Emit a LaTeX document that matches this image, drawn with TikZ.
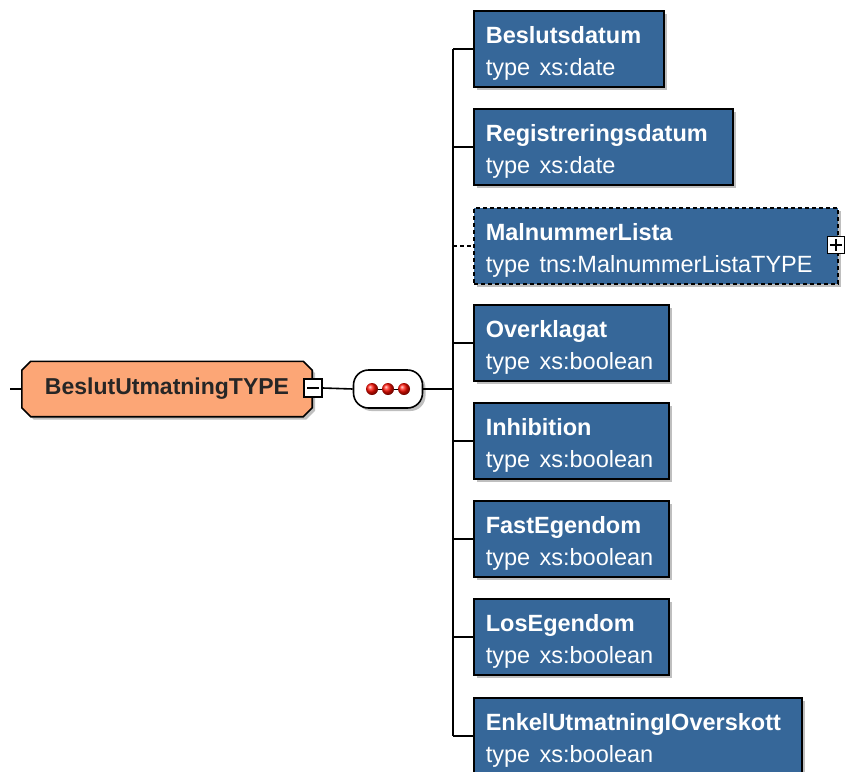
\documentclass[tikz,border=0pt]{standalone}
\usepackage{fontspec}
\setmainfont{Liberation Sans}
\usetikzlibrary{shadows,backgrounds}

\definecolor{elblue}{RGB}{54,103,153}
\definecolor{rootorange}{RGB}{252,166,118}

\newcommand{\elemtext}[2]{\rule{0pt}{27pt}\textbf{#1}\\type\hspace{0.4em}#2\rule[-5pt]{0pt}{5pt}}

\tikzset{
  shadowed/.style={drop shadow={shadow xshift=3pt,shadow yshift=-3pt,fill=black,opacity=0.25}},
  elbox/.style={draw=black,line width=1.6pt,fill=elblue,text=white,anchor=north west,
    minimum height=76pt,inner xsep=12pt,inner ysep=0pt,align=left,
    font=\fontsize{23.5}{32}\selectfont,shadowed},
  rootbox/.style={draw=black,line width=1.6pt,fill=rootorange,shadowed},
  conn/.style={line width=1.6pt},
  togglebox/.style={draw=black,line width=1.5pt,fill=white,minimum size=18pt,inner sep=0pt},
  seqdot/.style={circle,shading=ball,ball color=red!90!orange,minimum size=12pt,inner sep=0pt}
}

\begin{document}
\begin{tikzpicture}[x=1pt,y=-1pt]
\useasboundingbox (0,0) rectangle (845,771);

\coordinate (start) at (10,389);
\coordinate (spine) at (453,389);

\node[minimum width=290pt,minimum height=55pt,inner sep=0pt,text=black!85,
  font=\fontsize{23}{28}\selectfont\bfseries] (root) at (167,389) {BeslutUtmatningTYPE};
\begin{scope}[on background layer]
\draw[rootbox] ([xshift=9pt]root.north west) -- ([xshift=-9pt]root.north east)
  -- ([yshift=-9pt]root.north east) -- ([yshift=9pt]root.south east)
  -- ([xshift=-9pt]root.south east) -- ([xshift=9pt]root.south west)
  -- ([yshift=9pt]root.south west) -- ([yshift=-9pt]root.north west) -- cycle;
\end{scope}
\node[togglebox] (minus) at (313,388) {};
\draw[line width=1.5pt] ([xshift=4pt]minus.west) -- ([xshift=-4pt]minus.east);

\node[draw=black,line width=1.6pt,fill=white,rounded corners=15pt,minimum width=69pt,
  minimum height=38pt,shadowed] (seq) at (388,389) {};
\node[seqdot] (dot1) at (372,389) {};
\node[seqdot] (dot2) at (388,389) {};
\node[seqdot] (dot3) at (404,389) {};
\draw[line width=0.8pt] (dot1) -- (dot2) -- (dot3);

\node[elbox,text width=166pt] (beslutsdatum) at (473,10) {\elemtext{Beslutsdatum}{xs:date}};
\node[elbox,text width=235pt] (registreringsdatum) at (473,108) {\elemtext{Registreringsdatum}{xs:date}};
\node[elbox,text width=340pt,dash pattern=on 4pt off 3pt] (malnummer) at (473,207) {\elemtext{MalnummerLista}{tns:MalnummerListaTYPE}};
\node[elbox,text width=171pt] (overklagat) at (473,304) {\elemtext{Overklagat}{xs:boolean}};
\node[elbox,text width=171pt] (inhibition) at (473,402) {\elemtext{Inhibition}{xs:boolean}};
\node[elbox,text width=171pt] (fastegendom) at (473,500) {\elemtext{FastEgendom}{xs:boolean}};
\node[elbox,text width=171pt] (losegendom) at (473,598) {\elemtext{LosEgendom}{xs:boolean}};
\node[elbox,text width=304pt] (enkel) at (473,697) {\elemtext{EnkelUtmatningIOverskott}{xs:boolean}};

\node[togglebox,minimum size=17pt] (plus) at (836,245) {};
\draw[line width=1.5pt] ([xshift=3pt]plus.west) -- ([xshift=-3pt]plus.east);
\draw[line width=1.5pt] ([yshift=-3pt]plus.north) -- ([yshift=3pt]plus.south);

\draw[conn] (start) -- (root.west);
\draw[conn] (minus.east) -- (seq.west);
\draw[conn] (seq.east) -- (spine);
\draw[conn] (beslutsdatum.west -| spine) -- (enkel.west -| spine);
\draw[conn] (beslutsdatum.west -| spine) -- (beslutsdatum.west);
\draw[conn] (registreringsdatum.west -| spine) -- (registreringsdatum.west);
\draw[conn,dash pattern=on 4pt off 3pt] (malnummer.west -| spine) -- (malnummer.west);
\draw[conn] (overklagat.west -| spine) -- (overklagat.west);
\draw[conn] (inhibition.west -| spine) -- (inhibition.west);
\draw[conn] (fastegendom.west -| spine) -- (fastegendom.west);
\draw[conn] (losegendom.west -| spine) -- (losegendom.west);
\draw[conn] (enkel.west -| spine) -- (enkel.west);
\end{tikzpicture}
\end{document}
